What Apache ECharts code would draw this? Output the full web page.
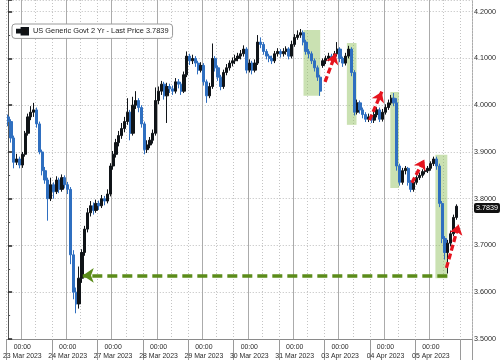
<!DOCTYPE html>
<html>
<head>
<meta charset="utf-8">
<script src="https://cdn.jsdelivr.net/npm/echarts@6/dist/echarts.min.js"></script>
<style>html,body{margin:0;padding:0;background:#fff}#c{width:500px;height:361px}</style>
</head>
<body>
<div id="c"></div>
<script>
// ---- data ----
const dayLabels = ['23 Mar 2023','24 Mar 2023','27 Mar 2023','28 Mar 2023','29 Mar 2023','30 Mar 2023','31 Mar 2023','03 Apr 2023','04 Apr 2023','05 Apr 2023'];
const prevDayLabel = '22 Mar 2023';
const slotsPerDay = 16;     // 90-minute bars
const firstDaySlot = 5;
const totalSlots = 164;
const seriesName = 'US Generic Govt 2 Yr - Last Price';
const lastPrice = 3.7839;
const yTicks = {min: 3.5, max: 4.225, interval: 0.1};

const opens = [3.975,3.965,3.930,3.878,3.885,3.872,3.895,3.940,3.975,3.985,3.990,3.960,3.900,3.860,3.840,3.800,3.830,3.815,3.840,3.820,
3.845,3.830,3.820,3.680,3.600,3.575,3.630,3.685,3.735,3.770,3.785,3.775,3.790,3.785,3.800,3.795,3.810,3.870,3.895,3.920,
3.935,3.950,3.965,3.985,3.940,4.000,4.010,3.995,3.960,3.905,3.915,3.925,3.940,4.010,4.030,4.045,4.020,4.040,4.035,4.030,
4.050,4.045,4.030,4.065,4.105,4.095,4.100,4.090,4.075,4.085,4.050,4.020,4.040,4.100,4.080,4.060,4.040,4.070,4.080,4.090,
4.095,4.100,4.105,4.110,4.120,4.075,4.090,4.075,4.090,4.135,4.130,4.115,4.105,4.100,4.095,4.110,4.115,4.110,4.115,4.120,
4.105,4.130,4.145,4.150,4.155,4.135,4.115,4.110,4.095,4.080,4.060,4.085,4.095,4.100,4.105,4.100,4.110,4.120,4.100,4.090,
4.105,4.120,4.070,3.985,4.005,3.990,3.980,3.970,3.975,3.968,3.980,3.990,3.970,3.985,3.995,4.005,4.015,4.005,3.870,3.835,
3.860,3.865,3.835,3.820,3.835,3.845,3.850,3.858,3.860,3.865,3.875,3.885,3.870,3.790,3.715,3.685,3.705,3.725,3.760];
const closes = [3.965,3.930,3.878,3.885,3.872,3.895,3.940,3.975,3.985,3.990,3.960,3.900,3.860,3.840,3.800,3.830,3.815,3.840,3.820,3.845,
3.830,3.820,3.680,3.600,3.575,3.630,3.685,3.735,3.770,3.785,3.775,3.790,3.785,3.800,3.795,3.810,3.870,3.895,3.920,3.935,
3.950,3.965,3.985,3.940,4.000,4.010,3.995,3.960,3.905,3.915,3.925,3.940,4.010,4.030,4.045,4.020,4.040,4.035,4.030,4.050,
4.045,4.030,4.065,4.105,4.095,4.100,4.090,4.075,4.085,4.050,4.020,4.040,4.100,4.080,4.060,4.040,4.070,4.080,4.090,4.095,
4.100,4.105,4.110,4.120,4.075,4.090,4.075,4.090,4.135,4.130,4.115,4.105,4.100,4.095,4.110,4.115,4.110,4.115,4.120,4.105,
4.130,4.145,4.150,4.155,4.135,4.115,4.110,4.095,4.080,4.060,4.030,4.095,4.100,4.105,4.100,4.110,4.120,4.100,4.090,4.105,
4.120,4.070,3.985,4.005,3.990,3.980,3.970,3.975,3.968,3.980,3.990,3.970,3.985,3.995,4.005,4.015,4.005,3.870,3.835,3.860,
3.865,3.835,3.820,3.835,3.845,3.850,3.858,3.860,3.865,3.875,3.885,3.870,3.790,3.715,3.685,3.705,3.725,3.760,3.7839];
const lows = [3.955,3.920,3.865,3.872,3.865,3.866,3.890,3.935,3.968,3.975,3.952,3.895,3.850,3.832,3.753,3.795,3.800,3.810,3.812,3.815,
3.822,3.810,3.660,3.585,3.555,3.565,3.620,3.678,3.728,3.762,3.766,3.770,3.776,3.780,3.786,3.790,3.805,3.862,3.888,3.912,
3.928,3.942,3.958,3.925,3.935,3.992,3.985,3.952,3.895,3.898,3.908,3.918,3.935,4.002,4.022,4.012,3.962,4.026,4.022,4.025,
4.036,4.022,4.026,4.060,4.086,4.088,4.082,4.066,4.070,4.042,4.005,4.015,4.035,4.072,4.052,4.032,4.035,4.064,4.074,4.083,
4.088,4.094,4.098,4.104,4.068,4.070,4.066,4.070,4.086,4.122,4.108,4.098,4.092,4.088,4.090,4.104,4.102,4.104,4.108,4.098,
4.100,4.125,4.140,4.144,4.128,4.108,4.100,4.088,4.072,4.052,4.020,4.080,4.088,4.094,4.092,4.096,4.104,4.092,4.082,4.085,
4.100,4.062,3.978,3.980,3.982,3.972,3.964,3.964,3.962,3.962,3.974,3.964,3.965,3.980,3.990,4.000,3.998,3.860,3.828,3.830,
3.852,3.828,3.814,3.815,3.830,3.840,3.845,3.852,3.855,3.860,3.870,3.862,3.782,3.705,3.670,3.640,3.698,3.720,3.755];
const highs = [3.980,3.970,3.935,3.896,3.890,3.900,3.945,3.982,3.998,4.005,3.995,3.965,3.905,3.868,3.845,3.845,3.835,3.848,3.845,3.852,
3.850,3.836,3.825,3.690,3.610,3.655,3.692,3.742,3.780,3.795,3.792,3.798,3.796,3.808,3.806,3.820,3.876,3.902,3.928,3.945,
3.962,3.975,4.015,3.990,4.018,4.030,4.015,4.000,3.965,3.925,3.932,3.948,4.038,4.040,4.052,4.050,4.048,4.046,4.042,4.058,
4.056,4.050,4.072,4.115,4.110,4.108,4.105,4.095,4.092,4.090,4.055,4.048,4.132,4.105,4.085,4.065,4.076,4.088,4.096,4.102,
4.108,4.112,4.118,4.128,4.124,4.098,4.095,4.098,4.150,4.145,4.135,4.120,4.110,4.106,4.116,4.122,4.120,4.122,4.126,4.124,
4.138,4.152,4.160,4.163,4.160,4.140,4.120,4.115,4.100,4.085,4.065,4.100,4.106,4.112,4.110,4.116,4.135,4.124,4.104,4.112,
4.127,4.124,4.075,4.012,4.010,3.995,3.985,3.982,3.980,3.986,3.996,3.995,3.992,4.002,4.012,4.022,4.026,4.015,3.875,3.866,
3.870,3.868,3.840,3.840,3.850,3.856,3.863,3.866,3.870,3.880,3.890,3.890,3.875,3.795,3.720,3.712,3.732,3.766,3.788];

// annotation boxes: [slotStart, valueTop, slotEnd, valueBottom]
const boxes = [[104.1,4.161,110.0,4.020],[119.4,4.133,122.8,3.958],[134.7,4.028,137.8,3.823],[150.6,3.894,154.8,3.630]];
// red arrows: [slotFrom, valueFrom, slotTo, valueTo]
const redArrows = [[111.7,4.050,115.4,4.110],[127.4,3.968,131.7,4.029],[142.3,3.834,146.7,3.884],[154.5,3.652,158.8,3.745]];
const greenArrow = [154.8,3.636,26.3,3.636];

// ---- build ----
const categories = [];
for (let i = 0; i < totalSlots; i++) {
  const d = Math.floor((i - firstDaySlot) / slotsPerDay);
  const s = ((i - firstDaySlot) % slotsPerDay + slotsPerDay) % slotsPerDay;
  const mins = s * 90;
  const hh = String(Math.floor(mins / 60)).padStart(2, '0');
  const mm = String(mins % 60).padStart(2, '0');
  categories.push((d < 0 ? prevDayLabel : dayLabels[d]) + ' ' + hh + ':' + mm);
}
const candles = closes.map((c, i) => [opens[i], c, lows[i], highs[i]]);
const slotOf = i => ((i - firstDaySlot) % slotsPerDay + slotsPerDay) % slotsPerDay;

const FONT = "'Liberation Sans','Arial',sans-serif";

const chart = echarts.init(document.getElementById('c'), null, {renderer: 'canvas'});
chart.setOption({
  animation: false,
  backgroundColor: '#fff',
  textStyle: {fontFamily: FONT},
  grid: {left: 0, right: 28, top: 0, bottom: 22, containLabel: false},
  legend: {
    left: 12, top: 24, padding: [3, 4, 3, 4], itemGap: 4,
    backgroundColor: '#fff', borderColor: '#9a9a9a', borderWidth: 1, borderRadius: 3,
    itemWidth: 11, itemHeight: 7,
    icon: 'path://M0,2h3v3h-3z M5,0h7v7h-7z',
    data: [{name: seriesName, itemStyle: {color: '#111'}}],
    formatter: n => n + ' ' + lastPrice.toFixed(4),
    textStyle: {fontSize: 7.4, color: '#222', fontFamily: FONT, padding: [1, 0, 0, 0]}
  },
  xAxis: [
    {
      type: 'category', data: categories, boundaryGap: true,
      axisLine: {show: true, lineStyle: {color: '#8a8a8a', width: 1}},
      axisTick: {show: true, interval: (i) => slotOf(i) === 11, length: 21, lineStyle: {color: '#9a9a9a'}},
      axisLabel: {
        interval: (i) => slotOf(i) === 0 && i >= firstDaySlot,
        formatter: (v, i) => '00:00\n' + dayLabels[Math.round((i - firstDaySlot) / slotsPerDay)],
        fontSize: 6.9, lineHeight: 9, color: '#2a2a2a', margin: 4, fontFamily: FONT
      },
      splitLine: {show: true, interval: (i) => slotOf(i) === 0, lineStyle: {color: '#ababab', width: 1}}
    },
    {
      type: 'category', data: categories, boundaryGap: true, position: 'bottom',
      axisLine: {show: false}, axisTick: {show: false}, axisLabel: {show: false},
      splitLine: {show: true, interval: (i) => slotOf(i) === 5 || slotOf(i) === 11,
        lineStyle: {color: '#c4c4c4', width: 1, type: [1, 2]}}
    },
    {type: 'value', min: -0.5, max: totalSlots - 0.5, show: false}
  ],
  yAxis: {
    type: 'value', position: 'right', min: yTicks.min, max: yTicks.max, interval: yTicks.interval,
    axisLine: {show: true, lineStyle: {color: '#555'}},
    axisTick: {show: true, length: 4, lineStyle: {color: '#222', width: 1.5}},
    minorTick: {show: true, splitNumber: 2, length: 2, lineStyle: {color: '#555'}},
    axisLabel: {formatter: v => v.toFixed(4), fontSize: 7.2, color: '#2a2a2a', margin: 2, showMaxLabel: false, fontFamily: FONT},
    splitLine: {show: true, lineStyle: {color: '#bdbdbd', width: 1, type: [1, 2]}}
  },
  series: [
    {
      name: 'boxes', type: 'line', xAxisIndex: 2, data: [], z: 1, silent: true,
      markArea: {
        silent: true,
        itemStyle: {color: 'rgba(145,192,95,0.48)'},
        data: boxes.map(b => [{xAxis: b[0], yAxis: b[1]}, {xAxis: b[2], yAxis: b[3]}])
      }
    },
    {
      name: seriesName, type: 'candlestick', xAxisIndex: 0, data: candles, z: 3,
      barWidth: '95%',
      itemStyle: {color: '#101418', color0: '#2f6fc0', borderColor: '#101418', borderColor0: '#2f6fc0', borderWidth: 1},
      markLine: {
        silent: true, symbol: 'none',
        lineStyle: {color: 'transparent', width: 0},
        label: {position: 'end', formatter: () => lastPrice.toFixed(4), backgroundColor: '#111', color: '#fff',
          padding: [2, 2, 1, 2], fontSize: 7.2, borderRadius: 2, distance: 2, fontFamily: FONT},
        data: [{yAxis: lastPrice}]
      }
    },
    {
      name: 'arrows', type: 'line', xAxisIndex: 2, data: [], z: 5, silent: true,
      markLine: {
        silent: true, symbol: ['none', 'arrow'], label: {show: false},
        data: redArrows.map(a => [
          {coord: [a[0], a[1]], symbolSize: 0, lineStyle: {color: '#e6141e', width: 3.3, type: [6, 3]}},
          {coord: [a[2], a[3]], symbolSize: 10}
        ]).concat([[
          {coord: [greenArrow[0], greenArrow[1]], symbolSize: 0, lineStyle: {color: '#5b8c1a', width: 3.5, type: [10, 5]}},
          {coord: [greenArrow[2], greenArrow[3]], symbolSize: 11}
        ]])
      }
    }
  ]
});
</script>
</body>
</html>
